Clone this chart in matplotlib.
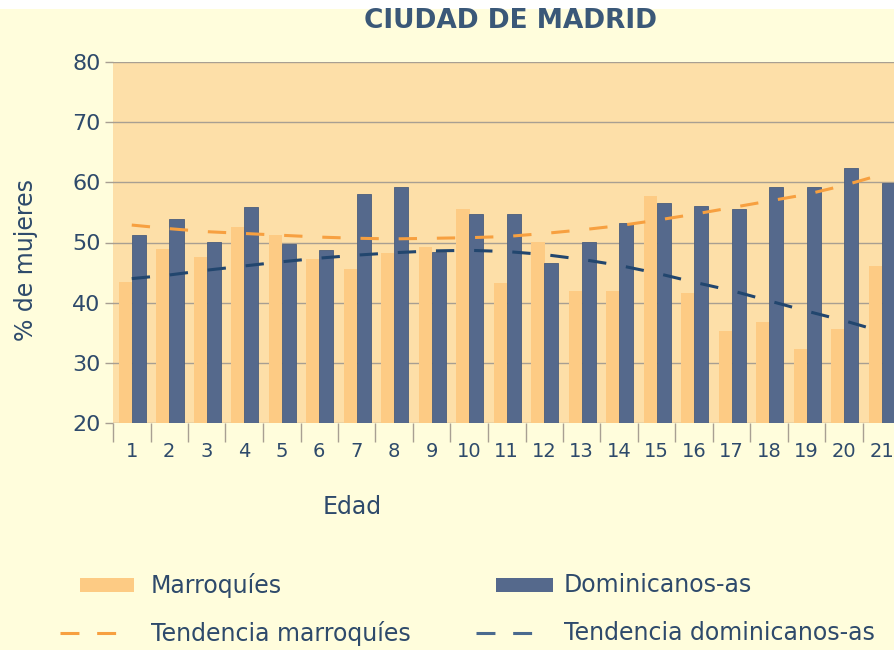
import numpy as np
import matplotlib.pyplot as plt
from matplotlib.patches import Rectangle
from matplotlib.lines import Line2D
from matplotlib.ticker import FixedLocator

plt.rcParams['font.family'] = ['DejaVu Sans']

# Datos
edades = list(range(1, 22))
marroquies = [43.5, 48.9, 47.6, 52.6, 51.3, 47.3, 45.6, 48.3, 49.2, 55.6, 43.3,
              50.1, 42.0, 42.0, 57.7, 41.6, 35.3, 36.8, 32.3, 35.6, 46.1]
dominicanos = [51.3, 53.9, 50.1, 55.9, 49.8, 48.8, 58.1, 59.2, 48.5, 54.8, 54.8,
               46.6, 50.1, 53.3, 56.6, 56.1, 55.6, 59.2, 59.2, 62.4, 59.9]
tend_marroquies = [52.9, 52.3, 51.8, 51.5, 51.2, 50.9, 50.7, 50.6, 50.7, 50.8, 51.0,
                   51.5, 52.1, 52.8, 53.7, 54.7, 55.8, 56.9, 58.0, 59.5, 61.3]
tend_dominicanos = [44.0, 44.6, 45.4, 46.1, 46.8, 47.4, 47.9, 48.3, 48.6, 48.7, 48.5,
                    48.0, 47.2, 46.2, 44.9, 43.4, 42.0, 40.3, 38.6, 37.0, 35.2]

C_FONDO = '#FFFDDC'
C_AREA = '#FDDFA8'
C_NAR = '#FDCB84'
C_AZUL = '#55698C'
C_TNAR = '#F7A040'
C_TAZUL = '#22466E'
C_TEXTO = '#2E4A6B'
C_GRID = '#A89F92'

W, H = 894, 650
fig = plt.figure(figsize=(W / 100, H / 100), dpi=100)
fig.patch.set_facecolor(C_FONDO)
fig.add_artist(Rectangle((0, 1 - 9 / H), 1, 9 / H, transform=fig.transFigure,
                         facecolor='white', edgecolor='none'))

# Area del grafico (se sale por la derecha, como en el original)
ax = fig.add_axes([113 / W, 1 - 423 / H, 787.5 / W, 361 / H])
ax.set_facecolor(C_AREA)

x = np.array(edades)
ax.bar(x - 0.17, marroquies, width=0.36, color=C_NAR, zorder=2)
ax.bar(x + 0.19, dominicanos, width=0.38, color=C_AZUL, edgecolor='#4A5D7C',
       linewidth=0.6, zorder=3)
ax.plot(x, tend_marroquies, color=C_TNAR, lw=2.2, ls=(0, (6, 6.5)), zorder=4)
ax.plot(x, tend_dominicanos, color=C_TAZUL, lw=2.2, ls=(0, (6, 6.5)), zorder=4)

ax.set_xlim(0.5, 21.5)
ax.set_ylim(20, 80)
ax.set_yticks(range(20, 81, 10))
ax.yaxis.grid(True, color=C_GRID, lw=1)
ax.set_axisbelow(True)
for s in ax.spines.values():
    s.set_visible(False)

ax.set_xticks(edades)
ax.xaxis.set_minor_locator(FixedLocator(np.arange(0.5, 22, 1)))
ax.tick_params(axis='x', which='major', length=0, pad=14, labelsize=14,
               labelcolor=C_TEXTO)
ax.tick_params(axis='x', which='minor', length=14, width=1, color=C_GRID)
ax.tick_params(axis='y', length=6, width=1, color=C_GRID, labelsize=16,
               labelcolor=C_TEXTO, pad=3)

ax.set_xlabel('Edad', fontsize=17, color=C_TEXTO)
ax.xaxis.set_label_coords((352 - 113) / 787.5, -(495 - 423) / 361)
ax.set_ylabel('% de mujeres', fontsize=17, color=C_TEXTO)
ax.yaxis.set_label_coords(-(113 - 38) / 787.5, (423 - 260) / 361)

fig.text(511 / W, 1 - 21 / H, 'CIUDAD DE MADRID', ha='center', va='center',
         fontsize=19, fontweight='bold', color='#3A5878')

# Leyenda
def fx(px):
    return px / W

def fy(py):
    return 1 - py / H

fig.add_artist(Rectangle((fx(80), fy(592)), fx(54), 14 / H, transform=fig.transFigure,
                         facecolor=C_NAR, edgecolor='none'))
fig.add_artist(Rectangle((fx(496), fy(592)), fx(57), 14 / H, transform=fig.transFigure,
                         facecolor=C_AZUL, edgecolor='none'))
fig.add_artist(Line2D([fx(60), fx(116)], [fy(633), fy(633)], transform=fig.transFigure,
                      color=C_TNAR, lw=2.2, ls=(0, (6.2, 5.8))))
fig.add_artist(Line2D([fx(476), fx(532)], [fy(633), fy(633)], transform=fig.transFigure,
                      color='#4A6A8E', lw=2.2, ls=(0, (6.2, 5.8))))
for px, py, txt in [(151, 585, 'Marroquíes'), (564, 585, 'Dominicanos-as'),
                    (151, 633, 'Tendencia marroquíes'), (564, 633, 'Tendencia dominicanos-as')]:
    fig.text(fx(px), fy(py), txt, ha='left', va='center', fontsize=17, color=C_TEXTO)

fig.savefig('out.png', dpi=100, facecolor=fig.get_facecolor())
